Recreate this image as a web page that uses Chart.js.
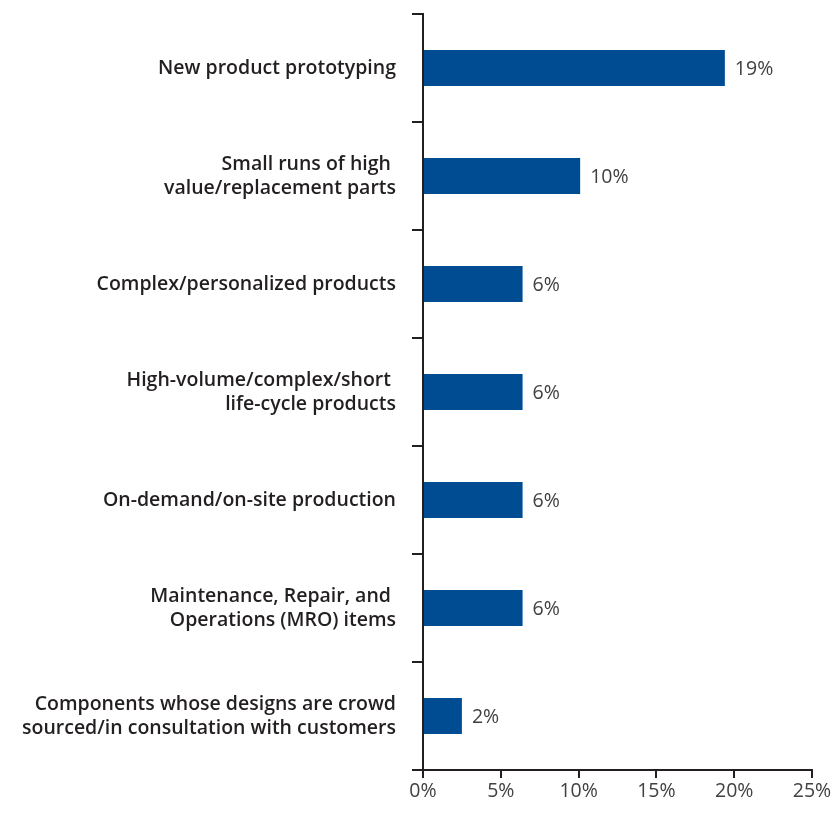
<!DOCTYPE html>
<html>
<head>
<meta charset="utf-8">
<script src="https://cdn.jsdelivr.net/npm/chart.js@4"></script>
<style>
  html, body { margin: 0; padding: 0; background: #fff; }
  #wrap { width: 834px; height: 813px; position: relative; }
</style>
</head>
<body>
<div id="wrap"><canvas id="usesChart"></canvas></div>
<script>
// Categories (multi-line labels as arrays)
const categories = [
  'New product prototyping',
  ['Small runs of high ', 'value/replacement parts'],
  'Complex/personalized products',
  ['High-volume/complex/short ', 'life-cycle products'],
  'On-demand/on-site production',
  ['Maintenance, Repair, and ', 'Operations (MRO) items'],
  ['Components whose designs are crowd', 'sourced/in consultation with customers']
];

const shares = [19.4, 10.1, 6.4, 6.4, 6.4, 6.4, 2.5];
const shareLabels = ['19%', '10%', '6%', '6%', '6%', '6%', '2%'];

const xTicks = [0, 5, 10, 15, 20, 25];

const barColor = '#004C93';
const axisColor = '#231F20';
const textColor = '#231F20';
const valueColor = '#414042';
const fontFamily = "'Open Sans', 'Noto Sans', sans-serif";

// Draws the value text just past the end of each bar
const valueLabels = {
  id: 'valueLabels',
  afterDatasetsDraw(chart) {
    const ctx = chart.ctx;
    const meta = chart.getDatasetMeta(0);
    ctx.save();
    ctx.font = `19.5px ${fontFamily}`;
    ctx.fillStyle = valueColor;
    ctx.textAlign = 'left';
    ctx.textBaseline = 'middle';
    meta.data.forEach((bar, i) => {
      ctx.fillText(shareLabels[i], bar.x + 10, bar.y + 1);
    });
    ctx.restore();
  }
};

const ctx = document.getElementById('usesChart').getContext('2d');
new Chart(ctx, {
  type: 'bar',
  data: {
    labels: categories,
    datasets: [{
      data: shares,
      backgroundColor: barColor,
      borderWidth: 0,
      barPercentage: 0.335,
      categoryPercentage: 1
    }]
  },
  options: {
    indexAxis: 'y',
    responsive: true,
    maintainAspectRatio: false,
    animation: false,
    layout: { padding: { top: 14, right: 22, left: 0, bottom: 0 } },
    plugins: {
      legend: { display: false },
      tooltip: { enabled: false }
    },
    scales: {
      x: {
        min: 0,
        max: 25,
        afterBuildTicks(scale) {
          scale.ticks = xTicks.map(v => ({ value: v }));
        },
        afterFit(scale) {
          scale.height = 43;
          scale.paddingLeft = 0;
          scale.paddingRight = 0;
        },
        border: { display: true, color: axisColor, width: 2 },
        grid: {
          drawOnChartArea: false,
          drawTicks: true,
          tickLength: 8,
          color: axisColor,
          lineWidth: 2
        },
        ticks: {
          color: valueColor,
          font: { family: fontFamily, size: 19.5 },
          padding: 2,
          callback: v => v + '%'
        }
      },
      y: {
        afterFit(scale) {
          scale.width = 423;
          scale.paddingTop = 0;
          scale.paddingBottom = 0;
        },
        border: { display: true, color: axisColor, width: 2 },
        grid: {
          offset: true,
          drawOnChartArea: false,
          drawTicks: true,
          tickLength: 11,
          color: axisColor,
          lineWidth: 2
        },
        ticks: {
          color: textColor,
          font: { family: fontFamily, size: 19.5, weight: '600', lineHeight: 1.23 },
          padding: 16
        }
      }
    }
  },
  plugins: [valueLabels]
});
</script>
</body>
</html>
